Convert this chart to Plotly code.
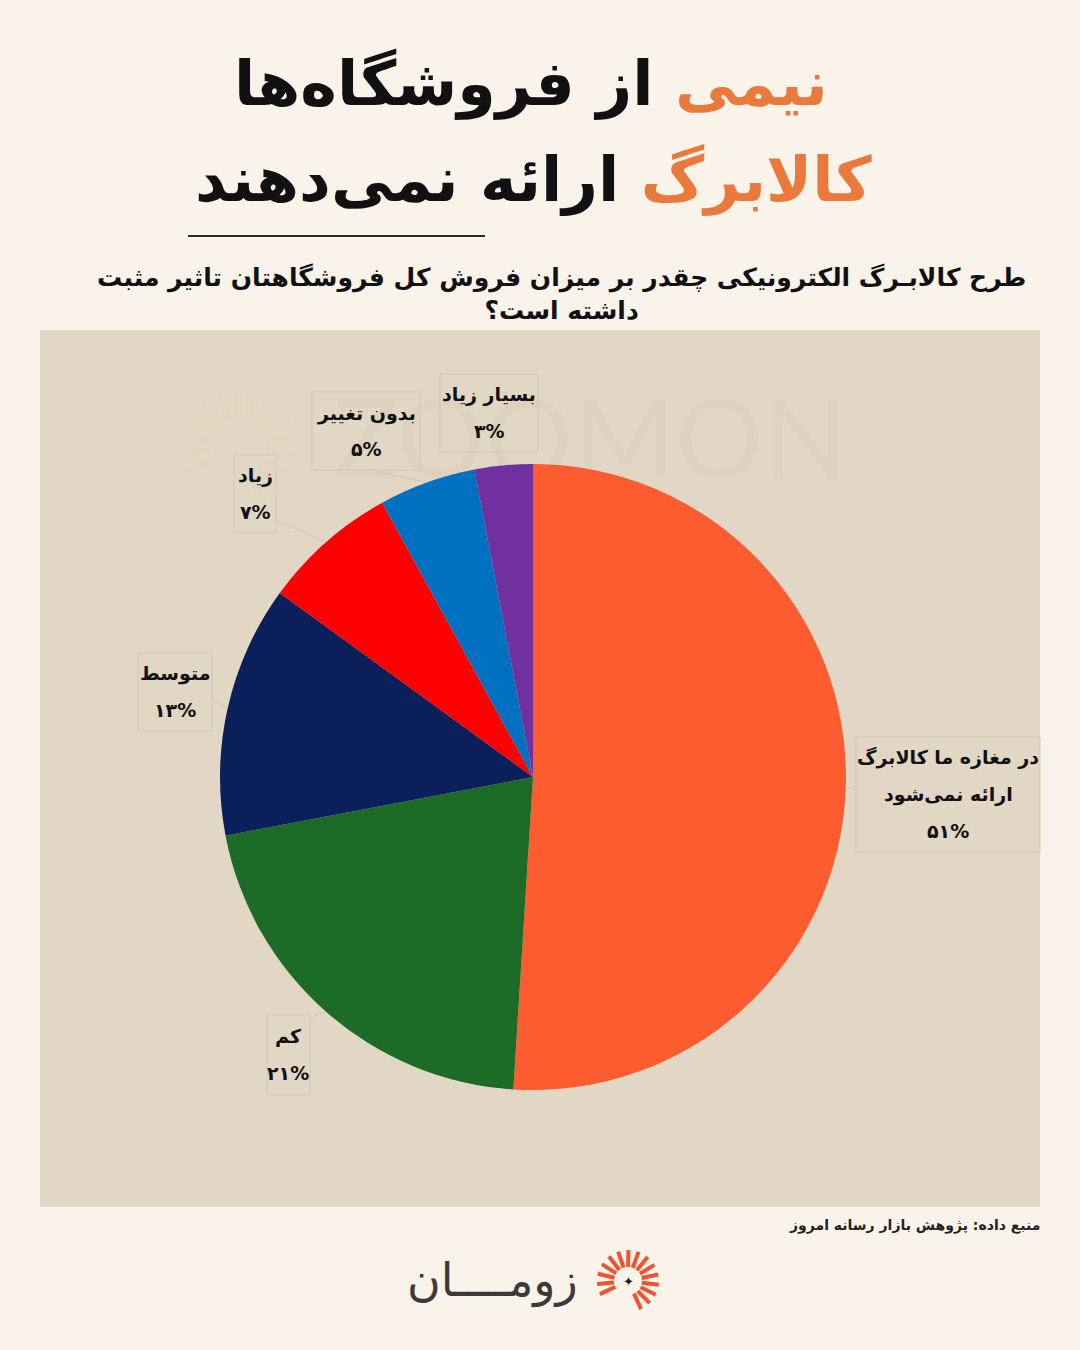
import math
import plotly.graph_objects as go

# ---------------- data ----------------
categories = ["در مغازه ما کالابرگ<br>ارائه نمی‌شود", "کم", "متوسط", "زیاد", "بدون تغییر", "بسیار زیاد"]
values = [51, 21, 13, 7, 5, 3]
slice_colors = ["#fd5c30", "#1c6b27", "#0b1f5b", "#fe0000", "#0070c0", "#7030a0"]

title_line1_hl, title_line1_rest = "نیمی", "از فروشگاه‌ها"
title_line2_hl, title_line2_rest = "کالابرگ", "ارائه نمی‌دهند"
subtitle = "طرح کالابـرگ الکترونیکی چقدر بر میزان فروش کل فروشگاهتان تاثیر مثبت<br>داشته است؟"
source_text = "منبع داده: پژوهش بازار رسانه امروز"
logo_text = "زومــــان"

# ---------------- layout helpers ----------------
W, H = 1080, 1350
FA = "DejaVu Sans"
BG = "#faf3ea"
PLOT_BG = "#e2d6c4"
ORANGE = "#ea7a3c"


def px(x):
    return x / W


def py(y):
    return 1 - y / H


def to_fa(n):
    return str(n).translate(str.maketrans("0123456789", "۰۱۲۳۴۵۶۷۸۹"))


# pie geometry (pixels)
CX, CY, R = 533, 777, 313

# label box layout: (center x, first-line y, line gap, box x0, x1, y0, y1, leader end x, leader end y)
label_layout = [
    (948, 757, 37, 856, 1040, 737, 852, 856, 790),
    (288, 1036, 37, 267, 310, 1015, 1095, 310, 1018),
    (175, 673, 37, 138, 212, 653, 731, 212, 700),
    (255, 476, 36, 234, 276, 455, 533, 276, 520),
    (366, 413, 36, 312, 420, 392, 470, 370, 470),
    (489, 395, 36, 440, 538, 374, 452, 498, 452),
]

fig = go.Figure()

# faint watermark behind pie (cartesian layer sits below the pie layer)
fig.add_trace(go.Scatter(
    x=[0.5], y=[0.5], mode="text", text=["ZOOMON"],
    textfont=dict(family="Lato", size=110, color="#ded2bf"),
    hoverinfo="skip", showlegend=False, xaxis="x", yaxis="y",
))

fig.add_trace(go.Pie(
    labels=categories, values=values, sort=False, direction="clockwise", rotation=0,
    marker=dict(colors=slice_colors, line=dict(width=0)),
    textinfo="none", hoverinfo="label+percent", showlegend=False,
    domain=dict(x=[px(CX - R), px(CX + R)], y=[py(CY + R), py(CY - R)]),
))

shapes = []
annotations = []

# plot area panel
shapes.append(dict(type="rect", xref="paper", yref="paper", layer="below",
                   x0=px(40), x1=px(1040), y0=py(1207), y1=py(330),
                   fillcolor=PLOT_BG, line=dict(width=0)))

# faint watermark sun icon
WX, WY = 238, 448
for k in range(15):
    a = math.radians(205 - k * (270 / 14))
    r0, r1 = 28, 60
    shapes.append(dict(type="line", xref="paper", yref="paper", layer="below",
                       x0=px(WX + r0 * math.cos(a)), y0=py(WY - r0 * math.sin(a)),
                       x1=px(WX + r1 * math.cos(a)), y1=py(WY - r1 * math.sin(a)),
                       line=dict(color="#e3d4bf", width=7)))

# title underline
shapes.append(dict(type="line", xref="paper", yref="paper",
                   x0=px(188), x1=px(485), y0=py(236), y1=py(236),
                   line=dict(color="#2a2a2a", width=2)))

# title
annotations.append(dict(
    x=px(531), y=py(84), xref="paper", yref="paper", xanchor="center", yanchor="middle", showarrow=False,
    text=f"<span style='color:{ORANGE}'>{title_line1_hl}</span> {title_line1_rest}",
    font=dict(family=FA, size=62, color="#111111", weight="bold"),
))
annotations.append(dict(
    x=px(534), y=py(180), xref="paper", yref="paper", xanchor="center", yanchor="middle", showarrow=False,
    text=f"<span style='color:{ORANGE}'>{title_line2_hl}</span> {title_line2_rest}",
    font=dict(family=FA, size=62, color="#111111", weight="bold"),
))
# subtitle
annotations.append(dict(
    x=px(561), y=py(294), xref="paper", yref="paper", xanchor="center", yanchor="middle", showarrow=False,
    text=subtitle, align="center",
    font=dict(family=FA, size=25, color="#111111", weight="bold"),
))

# labels
total = sum(values)
cum = 0
for cat, val, lay in zip(categories, values, label_layout):
    cx, ly, gap, bx0, bx1, by0, by1, lex, ley = lay
    mid = (cum + val / 2) / total
    cum += val
    th = 2 * math.pi * mid
    ex, ey = CX + R * math.sin(th), CY - R * math.cos(th)
    shapes.append(dict(type="rect", xref="paper", yref="paper",
                       x0=px(bx0), x1=px(bx1), y0=py(by1), y1=py(by0),
                       fillcolor="rgba(0,0,0,0)", line=dict(color="#d3c7b3", width=1)))
    shapes.append(dict(type="line", xref="paper", yref="paper",
                       x0=px(lex), x1=px(ex), y0=py(ley), y1=py(ey),
                       line=dict(color="#d0c4b0", width=1)))
    lines = cat.split("<br>") + [f"{to_fa(val)}%"]
    for i, t in enumerate(lines):
        annotations.append(dict(
            x=px(cx), y=py(ly + i * gap), xref="paper", yref="paper",
            xanchor="center", yanchor="middle", showarrow=False, text=t, borderpad=0,
            font=dict(family=FA, size=19, color="#111111", weight="bold"),
        ))

# source
annotations.append(dict(
    x=px(1042), y=py(1225), xref="paper", yref="paper", xanchor="right", yanchor="middle", showarrow=False,
    text=source_text, font=dict(family=FA, size=14, color="#222222", weight="bold"),
))

# logo
annotations.append(dict(
    x=px(580), y=py(1280), xref="paper", yref="paper", xanchor="right", yanchor="middle", showarrow=False,
    text=logo_text, font=dict(family=FA, size=46, color="#3a3a3a"),
))
LX, LY = 628, 1281
n_rays = 15
for k in range(n_rays):
    a = math.radians(205 - k * (270 / (n_rays - 1)))
    r0, r1 = 14, 31
    shapes.append(dict(type="line", xref="paper", yref="paper",
                       x0=px(LX + r0 * math.cos(a)), y0=py(LY - r0 * math.sin(a)),
                       x1=px(LX + r1 * math.cos(a)), y1=py(LY - r1 * math.sin(a)),
                       line=dict(color="#f0532d", width=4)))
annotations.append(dict(
    x=px(LX), y=py(LY), xref="paper", yref="paper", xanchor="center", yanchor="middle", showarrow=False,
    text="✦", font=dict(family="DejaVu Sans", size=13, color="#222222"),
))

fig.update_layout(
    width=W, height=H, autosize=False,
    margin=dict(l=0, r=0, t=0, b=0),
    paper_bgcolor=BG, plot_bgcolor="rgba(0,0,0,0)",
    xaxis=dict(domain=[px(250), px(930)], range=[0, 1], visible=False, fixedrange=True),
    yaxis=dict(domain=[py(500), py(400)], range=[0, 1], visible=False, fixedrange=True),
    shapes=shapes, annotations=annotations,
)

fig.write_html(
    "out.html",
    config={"displayModeBar": False},
    post_script="document.body.style.margin='0';document.body.style.background='#faf3ea';document.body.style.overflow='hidden';",
)
